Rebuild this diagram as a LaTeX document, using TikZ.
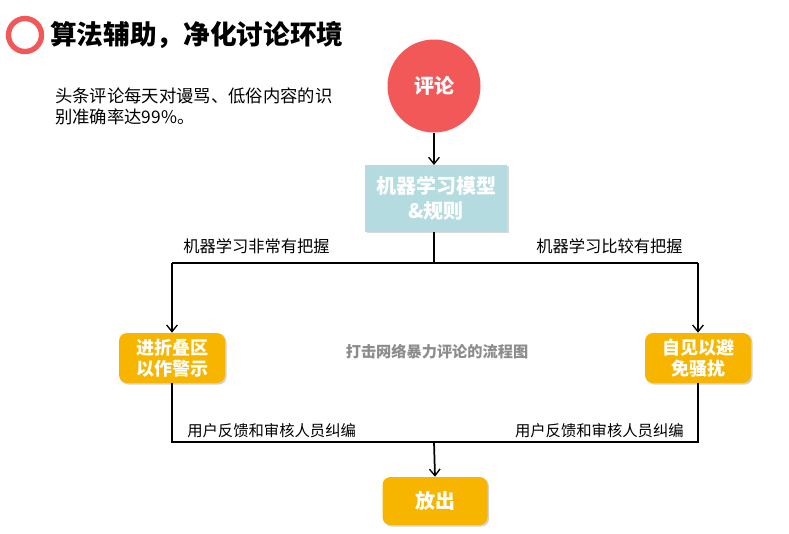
\documentclass[tikz,border=0pt]{standalone}
\usepackage{fontspec}
\setmainfont{Noto Sans CJK SC}
\usetikzlibrary{arrows.meta,shadows}
\definecolor{redc}{HTML}{F25858}
\definecolor{bluebox}{HTML}{B3DBE0}
\definecolor{orangebox}{HTML}{F7B500}
\begin{document}
\begin{tikzpicture}[x=0.75pt,y=-0.75pt,
  conn/.style={line width=1.3pt,draw=black},
  arr/.style={conn,-{Straight Barb[length=5pt,width=8pt,line width=1pt]}},
  procbox/.style={fill=orangebox,rounded corners=6pt,text=white,font=\bfseries\fontsize{13.5}{16}\selectfont,align=center,inner sep=0pt,minimum width=106*0.75pt,minimum height=50*0.75pt,drop shadow={shadow xshift=1.2pt,shadow yshift=-1.2pt,opacity=0.35}},
  lbl/.style={font=\fontsize{11.5}{13}\selectfont,inner sep=0pt,anchor=south west}
]
\useasboundingbox (0,0) rectangle (789,533);
% title
\node[draw=redc,line width=4pt,circle,minimum size=33*0.75pt,inner sep=0pt] (tc) at (25,35) {};
\node[anchor=west,font=\bfseries\fontsize{20}{24}\selectfont,inner sep=0pt] (title) at (50,35) {算法辅助，净化讨论环境};
\node[anchor=north west,align=left,font=\fontsize{13}{15.5}\selectfont,inner sep=0pt] (desc) at (55,88) {头条评论每天对谩骂、低俗内容的识\\别准确率达99\%。};
% nodes
\node[circle,fill=redc,minimum size=93*0.75pt,inner sep=0pt,text=white,font=\bfseries\fontsize{15}{18}\selectfont] (c) at (434,86) {评论};
\node[fill=bluebox,minimum width=142*0.75pt,minimum height=67*0.75pt,inner sep=0pt,text=white,font=\bfseries\fontsize{15}{19}\selectfont,align=center,drop shadow={shadow xshift=1.2pt,shadow yshift=-1.2pt,opacity=0.3}] (m) at (436,198) {机器学习模型\\\&规则};
\node[procbox] (l) at (172,358) {进折叠区\\以作警示};
\node[procbox] (r) at (698,358) {自见以避\\免骚扰};
\node[procbox,minimum width=105*0.75pt,minimum height=48*0.75pt,font=\bfseries\fontsize{15}{18}\selectfont] (o) at (435,501) {放出};
\node[text=black!45,font=\bfseries\fontsize{11.4}{13}\selectfont,inner sep=0pt] (center) at (437,352) {打击网络暴力评论的流程图};
% coordinates
\coordinate (j1) at (434,263);
\coordinate (j2) at (434,442);
\coordinate (tl) at (172,263);
\coordinate (tr) at (698,263);
\coordinate (bl) at (172,442);
\coordinate (br) at (698,442);
% connectors
\draw[arr] (c.south) -- (434,165);
\draw[conn] (434,232) -- (j1);
\draw[conn] (tl) -- (tr);
\draw[arr] (tl) -- (l.north);
\draw[arr] (tr) -- (r.north);
\draw[conn] (l.south) -- (bl) -- (br) -- (r.south);
\draw[arr] (j2) -- (o.north);
% labels
\node[lbl,font=\fontsize{12.2}{14}\selectfont] (la) at (183,254) {机器学习非常有把握};
\node[lbl,font=\fontsize{12.2}{14}\selectfont,anchor=south east] (lb) at (683,254) {机器学习比较有把握};
\node[lbl] (lc) at (187,438) {用户反馈和审核人员纠编};
\node[lbl,anchor=south east] (ld) at (684,438) {用户反馈和审核人员纠编};
\end{tikzpicture}
\end{document}
